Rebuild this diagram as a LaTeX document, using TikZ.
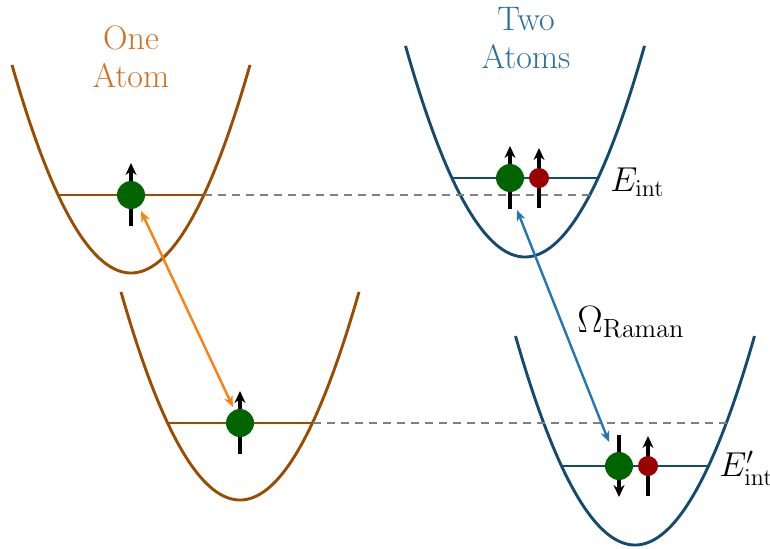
\documentclass[tikz,border=0pt]{standalone}
\usepackage{graphicx}
\usetikzlibrary{arrows.meta}
\definecolor{brownc}{HTML}{9A4C00}
\definecolor{bluec}{HTML}{134A70}
\definecolor{onec}{HTML}{D2701E}
\definecolor{twoc}{HTML}{2C6E9E}
\definecolor{orangec}{HTML}{FF7F0E}
\definecolor{lbluec}{HTML}{1F77B4}
\definecolor{greenc}{HTML}{006400}
\definecolor{redc}{HTML}{9B0000}
\newcommand{\biglab}[1]{\scalebox{1.1}{#1}}
\begin{document}
\begin{tikzpicture}[x=0.5pt,y=-0.5pt,font=\fontsize{17}{19}\selectfont,
  wellB/.style={draw=brownc,line width=1.45pt},
  wellD/.style={draw=bluec,line width=1.45pt},
  levB/.style={draw=brownc,line width=1.15pt},
  levD/.style={draw=bluec,line width=1.15pt},
  spin/.style={line width=1.6pt,-{Stealth[length=6pt,width=5.5pt]}},
  bigatom/.style={circle,fill=greenc,minimum size=14pt,inner sep=0pt},
  smallatom/.style={circle,fill=redc,minimum size=10pt,inner sep=0pt},
  dashln/.style={draw=gray,line width=0.9pt,dash pattern=on 4pt off 3pt},
  trans/.style={line width=1.2pt,{Stealth[length=5.5pt,width=4.5pt]}-{Stealth[length=5.5pt,width=4.5pt]}},
  mlabel/.style={anchor=west,inner sep=0pt,font=\fontsize{17.28}{20}\selectfont},
  title/.style={align=center}]
\useasboundingbox (0,0) rectangle (770,548);
% wells
\draw[wellB] plot[domain=-119:119,samples=80,smooth] ({131+\x},{273-0.01469*\x*\x});
\draw[wellB] plot[domain=-119:119,samples=80,smooth] ({240+\x},{500-0.01469*\x*\x});
\draw[wellD] plot[domain=-119.5:119.5,samples=80,smooth] ({525+\x},{257-0.01478*\x*\x});
\draw[wellD] plot[domain=-119.5:119.5,samples=80,smooth] ({635+\x},{545-0.01464*\x*\x});
% levels
\coordinate (l1a) at (58,195); \coordinate (l1b) at (204,195);
\coordinate (l2a) at (167,423); \coordinate (l2b) at (313,423);
\coordinate (l3a) at (452,178); \coordinate (l3b) at (598,178);
\coordinate (l4a) at (562,466); \coordinate (l4b) at (708,466);
\draw[levB] (l1a) -- (l1b);
\draw[levB] (l2a) -- (l2b);
\draw[levD] (l3a) -- (l3b);
\draw[levD] (l4a) -- (l4b);
% dashed
\coordinate (d1) at (596,195);
\coordinate (d2) at (727,423);
\draw[dashln] (l1b) -- (d1);
\draw[dashln] (l2b) -- (d2);
% spins
\coordinate (s1a) at (131,226); \coordinate (s1b) at (131,163);
\coordinate (s2a) at (240,454); \coordinate (s2b) at (240,391);
\coordinate (s3a) at (510,209); \coordinate (s3b) at (510,146);
\coordinate (s4a) at (539,208); \coordinate (s4b) at (539,148);
\coordinate (s5a) at (619,435); \coordinate (s5b) at (619,497);
\coordinate (s6a) at (648,496); \coordinate (s6b) at (648,436);
\draw[spin] (s1a) -- (s1b);
\draw[spin] (s2a) -- (s2b);
\draw[spin] (s3a) -- (s3b);
\draw[spin] (s4a) -- (s4b);
\draw[spin] (s5a) -- (s5b);
\draw[spin] (s6a) -- (s6b);
% atoms
\node[bigatom] (a1) at (131,195) {};
\node[bigatom] (a2) at (240,423) {};
\node[bigatom] (a3) at (510,178) {};
\node[smallatom] (b3) at (539,178) {};
\node[bigatom] (a4) at (619,466) {};
\node[smallatom] (b4) at (648,466) {};
% transitions
\coordinate (t1a) at (141,211); \coordinate (t1b) at (233,407);
\coordinate (t2a) at (517,210); \coordinate (t2b) at (609,442);
\draw[trans,orangec] (t1a) -- (t1b);
\draw[trans,lbluec] (t2a) -- (t2b);
% labels
\node[title,text=onec] (one) at (131,57) {One\\Atom};
\node[title,text=twoc] (two) at (526,38) {Two\\Atoms};
\node[mlabel] (e1) at (610,182) {$E_{\mathrm{int}}$};
\node[mlabel] (e2) at (719,468) {$E'_{\mathrm{int}}$};
\node[mlabel] (om) at (577,322) {\biglab{$\Omega_{\mathrm{Raman}}$}};
\end{tikzpicture}
\end{document}
